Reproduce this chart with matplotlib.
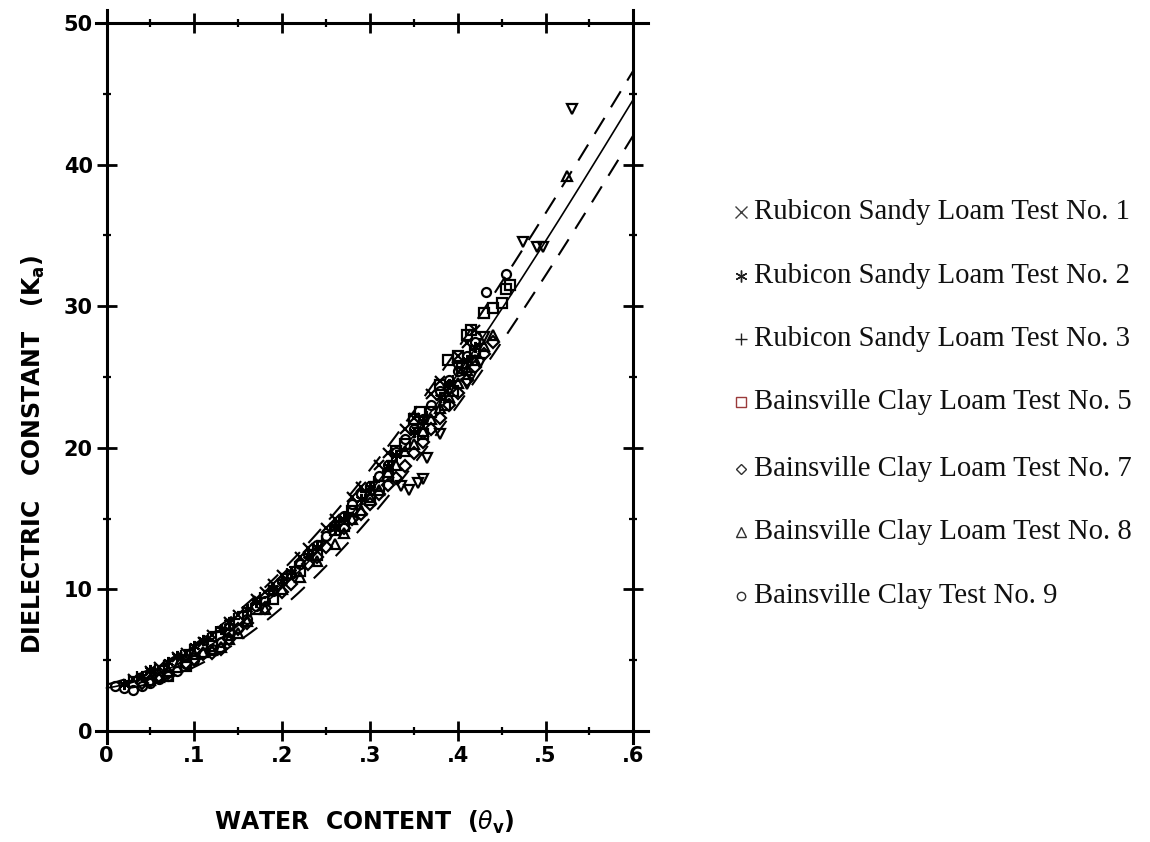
import numpy as np
import matplotlib
matplotlib.use("Agg")
import matplotlib.pyplot as plt
from matplotlib.lines import Line2D

plt.rcParams['mathtext.fontset'] = 'dejavusans'

# Topp et al. third-order fit:  Ka = c0 + c1*t + c2*t^2 + c3*t^3
topp_coef = [3.03, 9.3, 146.0, -76.7]
shift_hi = 0.02    # horizontal offsets of the dashed envelope (water content)
shift_lo = 0.025

x_ticks = [0.0, 0.1, 0.2, 0.3, 0.4, 0.5, 0.6]
x_tick_labels = ['0', '.1', '.2', '.3', '.4', '.5', '.6']
y_ticks = [0, 10, 20, 30, 40, 50]
y_tick_labels = ['0', '10', '20', '30', '40', '50']

# measured points (water content, dielectric constant)
rub1_t = [0.03, 0.05, 0.06, 0.08, 0.09, 0.11, 0.12, 0.14, 0.15, 0.17, 0.18, 0.19, 0.20, 0.22,
          0.23, 0.25, 0.26, 0.28, 0.29, 0.31, 0.32, 0.34, 0.35, 0.37, 0.38, 0.40, 0.41, 0.42]
rub1_k = [3.7, 4.2, 4.5, 5.2, 5.5, 6.3, 6.8, 7.7, 8.2, 9.3, 9.8, 10.4, 11.0, 12.3,
          12.9, 14.3, 15.0, 16.5, 17.2, 18.8, 19.6, 21.3, 22.1, 23.8, 24.7, 26.5, 27.4, 28.3]

rub2_t = [0.02, 0.04, 0.05, 0.07, 0.08, 0.10, 0.11, 0.13, 0.14, 0.16, 0.17, 0.19, 0.20, 0.21,
          0.23, 0.24, 0.26, 0.27, 0.29, 0.30, 0.32, 0.33, 0.35, 0.36, 0.38, 0.39, 0.41, 0.42]
rub2_k = [3.3, 3.9, 4.3, 4.9, 5.3, 6.0, 6.4, 7.2, 7.7, 8.6, 9.1, 10.1, 10.6, 11.2,
          12.4, 13.0, 14.3, 15.0, 16.4, 17.2, 18.7, 19.5, 21.1, 21.9, 23.6, 24.5, 26.2, 27.1]

rub3_t = [0.025, 0.035, 0.055, 0.065, 0.085, 0.095, 0.115, 0.125, 0.145, 0.155, 0.175, 0.185,
          0.205, 0.215, 0.235, 0.245, 0.265, 0.275, 0.295, 0.305, 0.325, 0.335, 0.355, 0.365,
          0.385, 0.395, 0.405, 0.425]
rub3_k = [3.5, 3.8, 4.3, 4.6, 5.3, 5.7, 6.5, 7.0, 7.9, 8.4, 9.4, 9.9,
          11.1, 11.6, 12.8, 13.4, 14.8, 15.4, 16.9, 17.6, 19.1, 19.8, 21.4, 22.2,
          23.9, 24.7, 25.6, 27.3]

bain5_t = [0.07, 0.09, 0.12, 0.14, 0.17, 0.19, 0.22, 0.24, 0.26, 0.27, 0.28, 0.30, 0.31, 0.32,
           0.33, 0.34, 0.35, 0.357, 0.36, 0.37, 0.38, 0.385, 0.389, 0.395, 0.40, 0.405, 0.41,
           0.415, 0.42, 0.43, 0.44, 0.45, 0.455, 0.46]
bain5_k = [3.9, 4.6, 6.0, 6.8, 8.6, 9.3, 11.3, 12.4, 14.2, 14.5, 15.5, 16.3, 17.3, 18.0,
           19.8, 20.3, 22.0, 22.5, 21.0, 22.5, 24.4, 23.0, 26.2, 24.0, 26.5, 25.6, 28.0,
           28.3, 26.8, 29.5, 29.9, 30.2, 31.2, 31.5]

bain7_t = [0.04, 0.05, 0.06, 0.07, 0.09, 0.10, 0.11, 0.12, 0.13, 0.14, 0.15, 0.16, 0.18, 0.20,
           0.21, 0.23, 0.24, 0.25, 0.27, 0.28, 0.29, 0.30, 0.31, 0.32, 0.33, 0.34, 0.35, 0.36,
           0.37, 0.38, 0.39, 0.40, 0.41, 0.42, 0.43, 0.44]
bain7_k = [3.4, 3.5, 3.9, 4.1, 4.8, 5.1, 5.4, 5.5, 5.8, 6.5, 7.2, 7.6, 8.7, 9.8,
           10.4, 11.8, 12.3, 13.0, 14.3, 15.0, 15.3, 16.0, 16.7, 17.4, 17.9, 18.7, 19.6, 20.4,
           21.3, 22.1, 23.0, 23.9, 24.8, 25.7, 26.6, 27.5]

bain8_t = [0.05, 0.06, 0.07, 0.08, 0.09, 0.10, 0.11, 0.12, 0.13, 0.14, 0.15, 0.16, 0.18, 0.20,
           0.22, 0.24, 0.26, 0.27, 0.28, 0.29, 0.30, 0.31, 0.32, 0.33, 0.34, 0.35, 0.36, 0.37,
           0.38, 0.39, 0.40, 0.41, 0.42, 0.43, 0.44, 0.525]
bain8_k = [3.6, 3.8, 4.2, 4.5, 5.2, 5.4, 5.6, 5.7, 5.9, 6.5, 6.9, 7.8, 8.6, 10.0,
           10.9, 12.0, 13.2, 14.0, 15.0, 15.6, 16.5, 17.0, 18.3, 18.8, 19.8, 20.3, 21.2, 22.0,
           22.8, 23.6, 24.6, 25.5, 26.2, 27.2, 28.0, 39.2]

bain9_t = [0.01, 0.02, 0.03, 0.04, 0.05, 0.06, 0.07, 0.08, 0.09, 0.10, 0.11, 0.12, 0.13, 0.14,
           0.15, 0.16, 0.17, 0.18, 0.19, 0.20, 0.21, 0.22, 0.23, 0.24, 0.25, 0.26, 0.27, 0.28,
           0.29, 0.30, 0.31, 0.32, 0.33, 0.34, 0.35, 0.36, 0.37, 0.38, 0.39, 0.40, 0.41, 0.42,
           0.432, 0.455]
bain9_k = [3.2, 3.0, 2.9, 3.2, 3.4, 3.7, 3.9, 4.2, 4.7, 5.0, 5.5, 5.8, 6.3, 7.0,
           7.3, 7.9, 8.8, 9.2, 9.9, 10.6, 11.1, 11.8, 12.5, 13.1, 13.8, 14.5, 15.2, 16.0,
           16.7, 17.3, 18.0, 18.8, 19.7, 20.6, 21.3, 22.0, 23.0, 24.0, 24.8, 25.4, 26.5, 27.5,
           31.0, 32.3]

# points plotted with inverted triangles (not listed in the key)
other_t = [0.335, 0.345, 0.355, 0.36, 0.365, 0.38, 0.39, 0.40, 0.41, 0.415, 0.425, 0.43,
           0.474, 0.490, 0.497, 0.530]
other_k = [17.3, 17.0, 17.5, 17.8, 19.3, 21.0, 24.0, 25.6, 24.5, 25.0, 26.0, 27.8,
           34.5, 34.2, 34.2, 43.9]

legend_labels = ['Rubicon Sandy Loam Test No. 1', 'Rubicon Sandy Loam Test No. 2',
                 'Rubicon Sandy Loam Test No. 3', 'Bainsville Clay Loam Test No. 5',
                 'Bainsville Clay Loam Test No. 7', 'Bainsville Clay Loam Test No. 8',
                 'Bainsville Clay Test No. 9']


def topp(t):
    t = np.asarray(t)
    return topp_coef[0] + topp_coef[1]*t + topp_coef[2]*t**2 + topp_coef[3]*t**3


lab_font = dict(family=['Liberation Sans Narrow', 'DejaVu Sans'], weight='bold')

fig = plt.figure(figsize=(11.5, 8.42), dpi=100)
ax = fig.add_axes([0.0835, 0.1176, 0.4802, 0.8702])
ax.set_xlim(-0.012, 0.617)
ax.set_ylim(-0.85, 50.9)

for name, pos in [('left', 0), ('right', 0.6), ('bottom', 0), ('top', 50)]:
    ax.spines[name].set_position(('data', pos))
    ax.spines[name].set_linewidth(2.2)

ax.set_xticks(x_ticks)
ax.set_xticklabels(x_tick_labels, fontsize=15, **lab_font)
ax.set_yticks(y_ticks)
ax.set_yticklabels(y_tick_labels, fontsize=15, **lab_font)
ax.set_xticks(np.arange(0.05, 0.6, 0.1), minor=True)
ax.set_yticks(np.arange(5, 50, 10), minor=True)
ax.tick_params(which='major', direction='inout', length=14, width=2,
               top=True, right=True, labeltop=False, labelright=False)
ax.tick_params(which='minor', direction='inout', length=6, width=1.6,
               top=True, right=True)
ax.tick_params(axis='x', which='major', pad=4)
ax.tick_params(axis='y', which='major', pad=3)

# fitted curve and envelope
tt = np.linspace(0, 0.6, 200)
ax.plot(tt, topp(tt), color='black', lw=1.2, zorder=2)
tu = np.linspace(0, 0.6, 200)
ax.plot(tu, topp(tu + shift_hi), color='black', lw=1.5, dashes=(9, 6), zorder=2)
tl = np.linspace(shift_lo, 0.6, 200)
ax.plot(tl, topp(tl - shift_lo), color='black', lw=1.5, dashes=(9, 6), zorder=2)

mk = dict(linestyle='none', color='black', mfc='none', mew=1.6, zorder=3)
ax.plot(rub1_t, rub1_k, marker='x', ms=7, **mk)
ax.plot(rub2_t, rub2_k, marker=(6, 2, 0), ms=8, **mk)
ax.plot(rub3_t, rub3_k, marker='+', ms=8, **mk)
ax.plot(bain5_t, bain5_k, marker='s', ms=7, **mk)
ax.plot(bain7_t, bain7_k, marker='D', ms=6, **mk)
ax.plot(bain8_t, bain8_k, marker='^', ms=7.5, **mk)
ax.plot(bain9_t, bain9_k, marker='o', ms=6.5, **mk)
ax.plot(other_t, other_k, marker='v', ms=7.5, **mk)

fig.text(364/1150, 1 - 822/842, r'WATER  CONTENT  ($\theta_\mathbf{v}$)',
         ha='center', va='center', fontsize=17, **lab_font)
fig.text(33/1150, 1 - 454/842, r'DIELECTRIC   CONSTANT   (K$_\mathbf{a}$)',
         ha='center', va='center', rotation=90, fontsize=17, **lab_font)

# key on the right
key_markers = [('x', 8, '#404040'), ((6, 2, 0), 8.5, '#202020'), ('+', 8.5, '#202020'),
               ('s', 7, '#9a3a3a'), ('D', 5.5, '#303030'), ('^', 6.5, '#303030'),
               ('o', 6, '#303030')]
row_base = [219, 283, 346, 409, 476, 539, 603]
for (m, s, c), lbl, ypx in zip(key_markers, legend_labels, row_base):
    fig.add_artist(Line2D([741/1150], [1 - (ypx - 7)/842], marker=m, ms=s, mfc='none',
                          mec=c, mew=1.0, linestyle='none', transform=fig.transFigure))
    fig.text(754/1150, 1 - ypx/842, lbl, ha='left', va='baseline', fontsize=20.7,
             family='Liberation Serif', color='#111111')

fig.savefig('out.png', dpi=100)
